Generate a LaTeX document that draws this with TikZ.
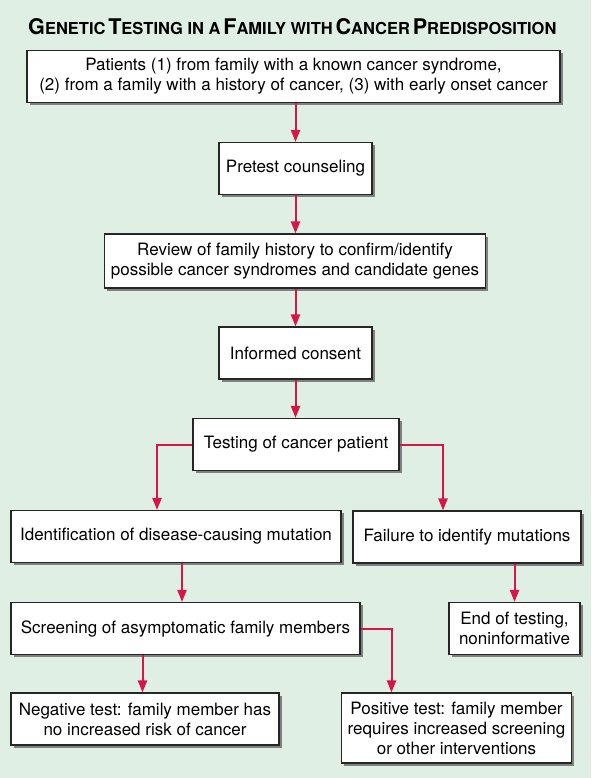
\documentclass[tikz,border=0pt]{standalone}
\usepackage{fontspec}
\setmainfont{TeX Gyre Heros}
\usetikzlibrary{arrows.meta,shadows}
\definecolor{bgmint}{RGB}{224,239,228}
\definecolor{linkred}{RGB}{214,22,72}
\tikzset{
  stepbox/.style={draw=black!85, line width=1.1pt, fill=white, align=center,
    inner xsep=6pt, inner ysep=0pt, minimum height=52pt,
    font=\fontsize{17}{20}\selectfont,
    drop shadow={shadow xshift=2.5pt, shadow yshift=-2.5pt, fill=black!60, opacity=0.8}},
  link/.style={draw=linkred, line width=2pt, -{Triangle[length=12pt,width=9pt]}}
}
\newcommand{\tcap}[2]{{\fontsize{21.6}{21}\selectfont #1}{\fontsize{16.5}{16}\selectfont #2}}
\begin{document}
\begin{tikzpicture}[x=1pt,y=-1pt]
                \fill[bgmint] (0,0) rectangle (591,778);
                % Title
                \node[anchor=west, font=\bfseries, inner sep=0pt] (title) at (28,27)
                  {\tcap{G}{ENETIC} \tcap{T}{ESTING IN A} \tcap{F}{AMILY WITH} \tcap{C}{ANCER} \tcap{P}{REDISPOSITION}};
                % Boxes
                \node[stepbox, minimum width=533pt] (patients) at (293.5,76.5)
                  {Patients (1) from family with a known cancer syndrome,\\(2) from a family with a history of cancer, (3) with early onset cancer};
                \node[stepbox, minimum width=153pt] (pretest) at (295.5,168.5) {Pretest counseling};
                \node[stepbox, minimum width=334pt, minimum height=54pt] (review) at (295,261)
                  {Review of family history to confirm/identify\\possible cancer syndromes and candidate genes};
                \node[stepbox, minimum width=153pt] (consent) at (295.5,353) {Informed consent};
                \node[stepbox, minimum width=206pt] (testing) at (296,444.5) {Testing of cancer patient};
                \node[stepbox, minimum width=330pt] (found) at (176,536.5) {Identification of disease-causing mutation};
                \node[stepbox, minimum width=228pt] (failed) at (467,537) {Failure to identify mutations};
                \node[stepbox, minimum width=349pt] (screen) at (185.5,628.5) {Screening of asymptomatic family members};
                \node[stepbox, minimum width=131pt] (endtest) at (514.5,628.5) {End of testing,\\noninformative};
                \node[stepbox, minimum width=268pt] (negative) at (145,719)
                  {Negative test: family member has\\no increased risk of cancer};
                \node[stepbox, minimum width=229pt, minimum height=70pt] (positive) at (456.5,728)
                  {Positive test: family member\\requires increased screening\\or other interventions};
                % Arrows
                \draw[link] (patients.south -| pretest.north) -- (pretest.north);
                \draw[link] (pretest.south) -- (review.north -| pretest.south);
                \draw[link] (review.south -| consent.north) -- (consent.north);
                \draw[link] (consent.south) -- (testing.north -| consent.south);
                \draw[link] (testing.west) -| ([xshift=-19pt]found.north);
                \draw[link] (testing.east) -| ([xshift=-24pt]failed.north);
                \draw[link] ([xshift=6pt]found.south) -- ([xshift=6pt]found.south |- screen.north);
                \draw[link] (failed.south -| endtest.north) -- (endtest.north);
                \draw[link] ([xshift=-43pt]screen.south) -- ([xshift=-43pt]screen.south |- negative.north);
                \draw[link] (screen.east) -| ([xshift=-65pt]positive.north);
\end{tikzpicture}
\end{document}
